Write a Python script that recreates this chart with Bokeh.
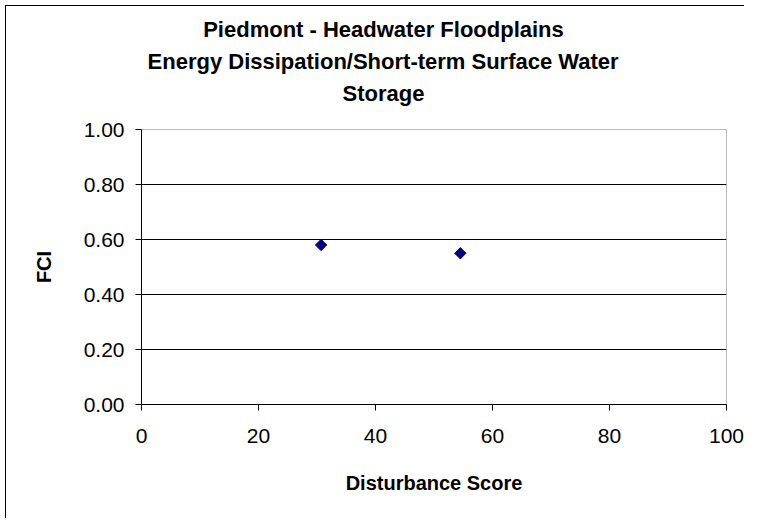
from bokeh.plotting import figure
from bokeh.models import (FixedTicker, NumeralTickFormatter, Range1d, Title,
                          ColumnDataSource)
from bokeh.embed import file_html
from bokeh.resources import INLINE

# ---- data ----
title_lines = ["Piedmont - Headwater Floodplains",
               "Energy Dissipation/Short-term Surface Water",
               "Storage"]
x_label = "Disturbance Score"
y_label = "FCI"
disturbance = [30.7, 54.5]
fci = [0.58, 0.55]
x_ticks = [0, 20, 40, 60, 80, 100]
y_ticks = [0.0, 0.2, 0.4, 0.6, 0.8, 1.0]

FONT = "Liberation Sans"
D = 6                      # chart-area border sits 5px in, 1px wide
W, H = 745 - D, 519 - D

p = figure(width=W, height=H, output_backend="svg", toolbar_location=None,
           x_range=Range1d(0, 100), y_range=Range1d(0, 1),
           min_border_left=141 - D, min_border_right=W - (726 - D),
           min_border_top=129 - D, min_border_bottom=H - (404 - D))
p.title = None

src = ColumnDataSource(dict(x=disturbance, y=fci))
p.scatter("x", "y", source=src, marker="square", angle=0.785398, size=8,
          fill_color="#000080", line_color="#000080")

# axes
for ax in (p.xaxis[0], p.yaxis[0]):
    ax.axis_line_color = "black"
    ax.major_tick_line_color = "black"
    ax.major_tick_in = 0
    ax.major_tick_out = 6
    ax.minor_tick_line_color = None
    ax.major_label_text_font = FONT
    ax.major_label_text_font_size = "21px"
    ax.major_label_text_color = "black"
    ax.axis_label_text_font = FONT
    ax.axis_label_text_font_size = "20px"
    ax.axis_label_text_font_style = "bold"
    ax.axis_label_text_color = "black"

p.xaxis.ticker = FixedTicker(ticks=x_ticks)
p.yaxis.ticker = FixedTicker(ticks=y_ticks)
p.yaxis.formatter = NumeralTickFormatter(format="0.00")
p.xaxis.axis_label = x_label
p.yaxis.axis_label = y_label
p.xaxis.major_label_standoff = 18
p.yaxis.major_label_standoff = 11
p.xaxis.axis_label_standoff = 26
p.yaxis.axis_label_standoff = 26

# grid
p.xgrid.grid_line_color = None
p.ygrid.ticker = FixedTicker(ticks=y_ticks[1:-1])
p.ygrid.grid_line_color = "black"
p.ygrid.grid_line_width = 1

p.outline_line_color = "#b8b8b8"
p.outline_line_width = 1
p.background_fill_color = "white"
p.border_fill_color = "white"

# chart-area border: only its top and left edges fall inside the picture
p.styles = {
    "border-left": "1px solid black",
    "border-top": "1px solid black",
    "margin-left": "5px",
    "margin-top": "5px",
}

# spacer between the plot area and the title block
p.add_layout(Title(text=" ", standoff=8, text_font_size="10px"), "above")

# title lines, centred on the chart (x = 383 px) rather than on the plot area
# Liberation Sans Bold (Arial metrics) advance widths in em
line_em = [16.392, 21.449, 3.723]
TS = 22
offsets = [383 - 141 - e * TS / 2 for e in line_em]
for txt, off in reversed(list(zip(title_lines, offsets))):
    p.add_layout(Title(text=txt, align="left", offset=off, standoff=5,
                       text_font=FONT, text_font_size=f"{TS}px",
                       text_font_style="bold", text_color="black"), "above")

open("out.html", "w").write(file_html(p, INLINE))
